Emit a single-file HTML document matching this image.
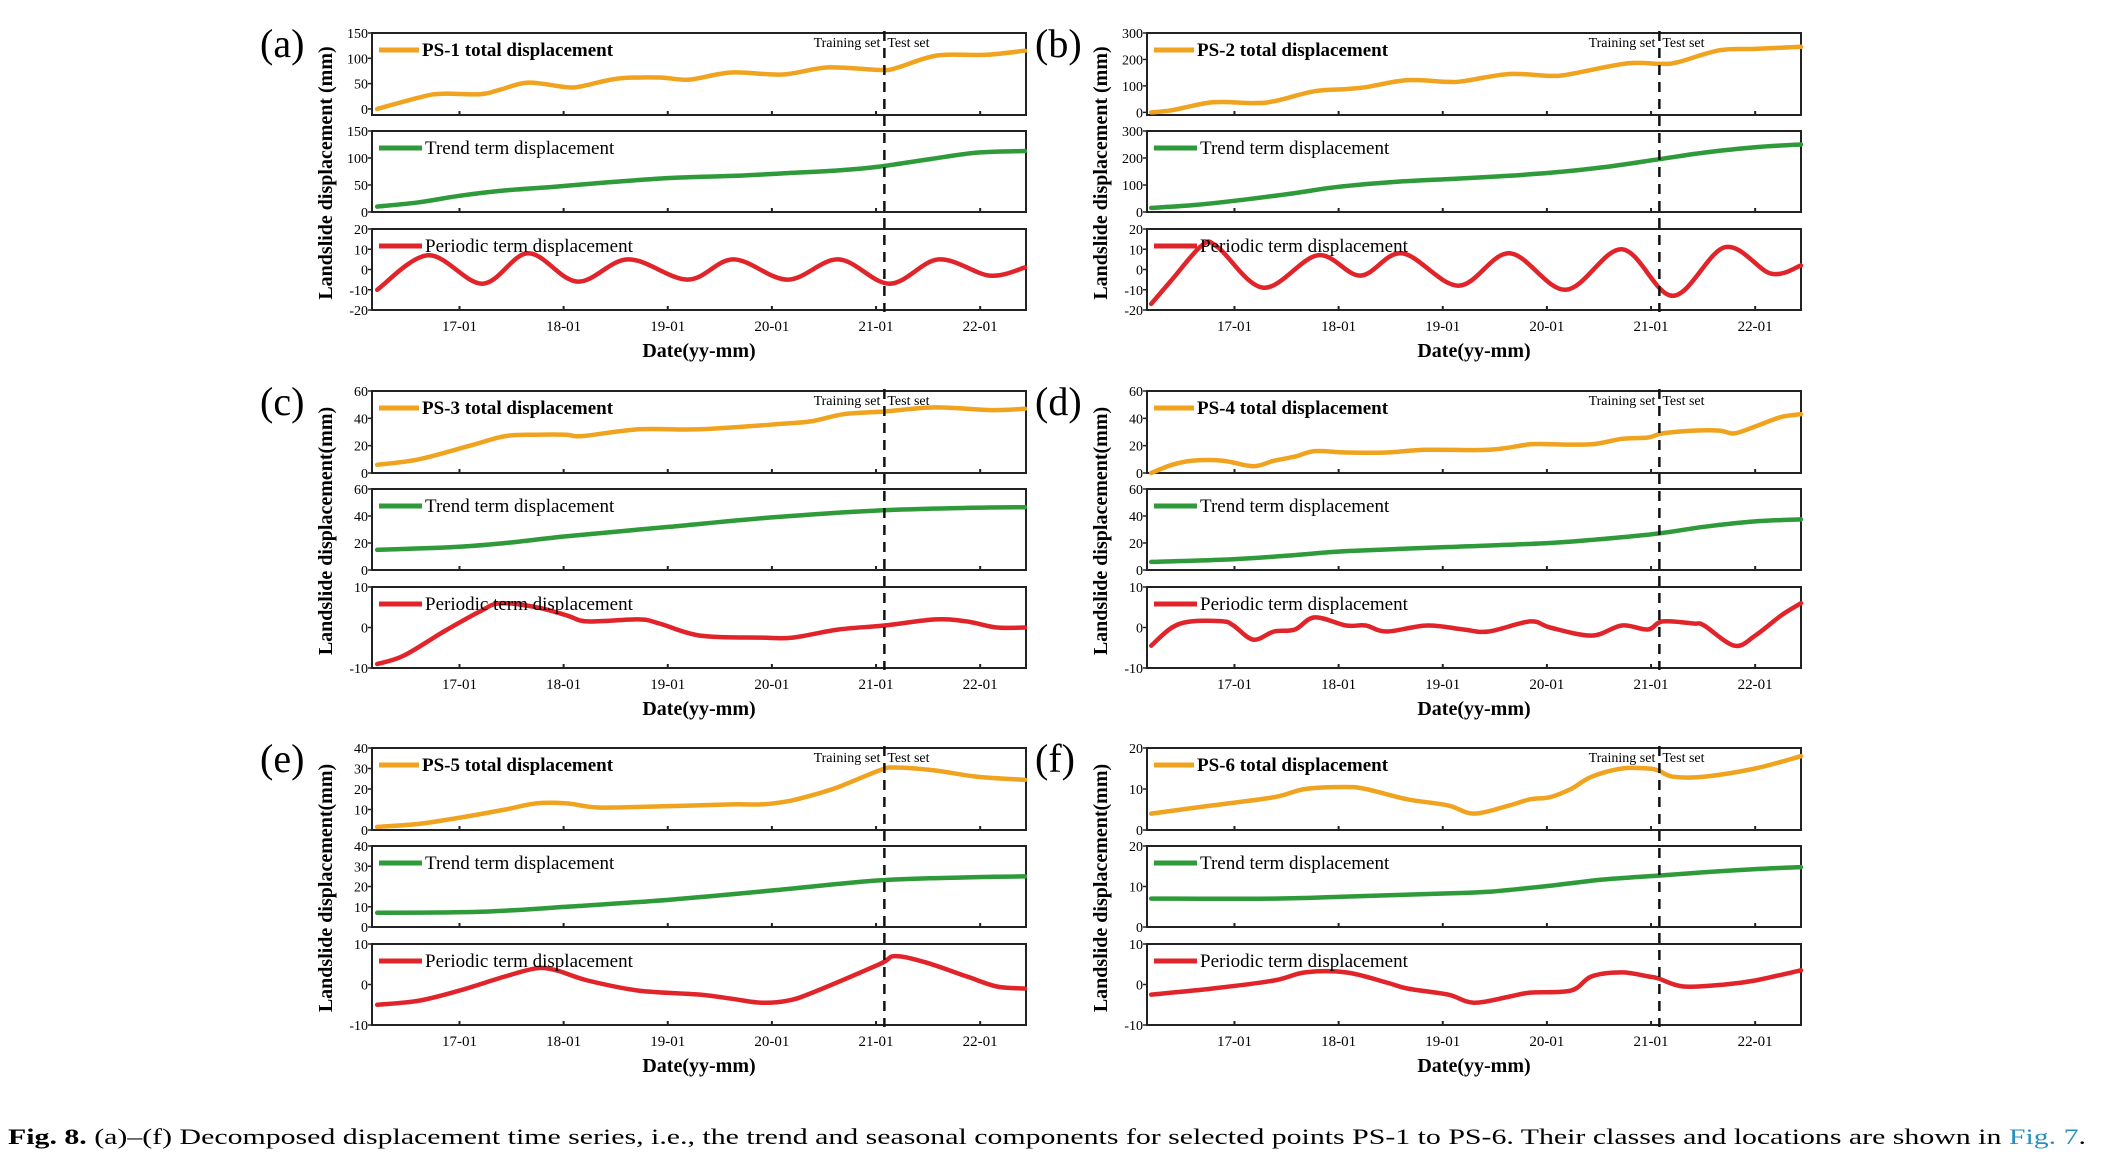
<!DOCTYPE html>
<html><head><meta charset="utf-8">
<style>
html,body{margin:0;padding:0;background:#fff;}
svg{display:block;font-family:"Liberation Serif",serif;}
</style></head>
<body>
<svg id="fig" width="2114" height="1170" viewBox="0 0 2114 1170" xmlns="http://www.w3.org/2000/svg">
<text x="8" y="1144" font-size="22" textLength="2078" lengthAdjust="spacingAndGlyphs"><tspan font-weight="bold">Fig. 8.</tspan>  (a)–(f) Decomposed displacement time series, i.e., the trend and seasonal components for selected points PS-1 to PS-6. Their classes and locations are shown in <tspan fill="#2a8fbd">Fig. 7</tspan>.</text>
</svg>
<script>
// ---- data (dates in decimal years) ----
const yearTicks = [2017, 2018, 2019, 2020, 2021, 2022];
const yearTickLabels = ["17-01","18-01","19-01","20-01","21-01","22-01"];
const splitDate = 2021.08;

const aTotalD = [2016.21,2016.66,2016.85,2017.2,2017.39,2017.66,2018.03,2018.18,2018.52,2018.92,2019.21,2019.61,2020.1,2020.54,2021.03,2021.18,2021.47,2021.67,2022.06,2022.43];
const aTotalV = [0,25,30,29,38,52,43,45,60,62,58,72,68,82,77,80,100,107,107,115];
const aTrendD = [2016.21,2016.61,2017.0,2017.44,2017.93,2018.43,2019.02,2019.65,2020.15,2020.64,2021.03,2021.52,2021.97,2022.43];
const aTrendV = [10,18,30,40,47,55,63,67,72,77,84,98,110,113];
const aPerD = [2016.21,2016.7,2017.22,2017.66,2018.13,2018.62,2019.19,2019.63,2020.15,2020.64,2021.13,2021.6,2022.09,2022.43];
const aPerV = [-10,7,-7,8,-6,5,-5,5,-5,5,-7,5,-3,1];

const bTotalD = [2016.2,2016.4,2016.79,2017.18,2017.38,2017.77,2018.07,2018.26,2018.66,2019.05,2019.2,2019.64,2020.03,2020.23,2020.77,2021.11,2021.26,2021.66,2022.0,2022.44];
const bTotalV = [0,8,38,35,42,80,88,95,122,115,118,145,138,145,185,183,190,235,240,248];
const bTrendD = [2016.2,2016.59,2017.08,2017.58,2017.97,2018.56,2019.05,2019.54,2020.03,2020.53,2021.07,2021.51,2022.0,2022.44];
const bTrendV = [15,25,45,70,92,112,122,132,145,165,195,220,240,250];
const bPerD = [2016.2,2016.4,2016.69,2016.84,2017.28,2017.8,2018.21,2018.61,2019.15,2019.64,2020.18,2020.72,2021.21,2021.71,2022.15,2022.44];
const bPerV = [-17,-5,12,11,-9,7,-3,8,-8,8,-10,10,-13,11,-2,2];

const cTotalD = [2016.21,2016.61,2017.1,2017.44,2017.74,2018.03,2018.18,2018.72,2019.31,2020.1,2020.39,2020.69,2021.08,2021.57,2022.11,2022.43];
const cTotalV = [6,10,20,27,28,28,27,32,32,36,38,43,45,48,46,47];
const cTrendD = [2016.21,2016.95,2017.44,2018.03,2019.02,2020.0,2021.0,2021.87,2022.43];
const cTrendV = [15,17,20,25,32,39,44,46,46.5];
const cPerD = [2016.21,2016.46,2016.85,2017.2,2017.39,2017.74,2018.03,2018.23,2018.72,2018.92,2019.31,2019.9,2020.2,2020.64,2021.08,2021.57,2021.87,2022.16,2022.43];
const cPerV = [-9,-7,-1,4,6,5,3,1.5,2,1,-2,-2.5,-2.5,-0.5,0.5,2,1.5,0,0];

const dTotalD = [2016.2,2016.4,2016.59,2016.89,2017.18,2017.38,2017.58,2017.77,2018.07,2018.46,2018.85,2019.44,2019.84,2020.03,2020.43,2020.72,2020.97,2021.11,2021.41,2021.66,2021.8,2022.0,2022.25,2022.44];
const dTotalV = [0,6,9,9,5,9,12,16,15,15,17,17,21,21,21,25,26,29,31,31,29,34,41,43];
const dTrendD = [2016.2,2016.99,2017.58,2018.07,2019.05,2020.03,2020.53,2021.07,2021.51,2022.0,2022.44];
const dTrendV = [6,8,11,14,17,20,23,27,32,36,37.5];
const dPerD = [2016.2,2016.4,2016.59,2016.89,2016.99,2017.18,2017.38,2017.58,2017.77,2018.07,2018.26,2018.46,2018.85,2019.2,2019.44,2019.84,2020.03,2020.43,2020.72,2020.97,2021.11,2021.41,2021.51,2021.8,2022.0,2022.25,2022.44];
const dPerV = [-4.5,0,1.5,1.5,0.5,-3,-1,-0.5,2.5,0.5,0.5,-1,0.5,-0.5,-1,1.5,0,-2,0.5,-0.5,1.5,1,0.5,-4.5,-2,3,6];

const eTotalD = [2016.21,2016.61,2017.0,2017.44,2017.74,2018.03,2018.33,2018.92,2019.61,2019.9,2020.15,2020.39,2020.64,2021.03,2021.18,2021.57,2021.97,2022.43];
const eTotalV = [1.5,3,6,10,13,13,11,11.5,12.5,12.5,14,17,21,29,30.5,29,26,24.5];
const eTrendD = [2016.21,2017.2,2018.03,2019.02,2020.0,2021.03,2021.87,2022.43];
const eTrendV = [7,7.5,10,13.5,18,23,24.5,25];
const ePerD = [2016.21,2016.61,2017.0,2017.44,2017.74,2017.93,2018.23,2018.72,2019.31,2019.61,2019.9,2020.15,2020.39,2021.03,2021.18,2021.47,2021.87,2022.16,2022.43];
const ePerV = [-5,-4,-1.5,2,4,3.5,1,-1.5,-2.5,-3.5,-4.5,-4,-2,5,7,5.5,2,-0.5,-1];

const fTotalD = [2016.2,2016.79,2017.38,2017.68,2018.07,2018.26,2018.66,2019.05,2019.3,2019.64,2019.84,2020.03,2020.23,2020.43,2020.72,2020.97,2021.07,2021.21,2021.51,2022.0,2022.44];
const fTotalV = [4,6,8,10,10.5,10,7.5,6,4,6,7.5,8,10,13,15,15,14.5,13,13,15,18];
const fTrendD = [2016.2,2017.38,2018.07,2019.05,2019.44,2020.03,2020.53,2021.07,2021.51,2022.0,2022.44];
const fTrendV = [7,7,7.5,8.3,8.7,10.2,11.7,12.7,13.5,14.3,14.8];
const fPerD = [2016.2,2016.79,2017.38,2017.68,2018.07,2018.46,2018.66,2019.05,2019.3,2019.64,2019.84,2020.23,2020.43,2020.72,2020.97,2021.07,2021.31,2021.71,2022.0,2022.44];
const fPerV = [-2.5,-1,1,3,3,0.5,-1,-2.5,-4.5,-3,-2,-1.5,2,3,2,1.5,-0.5,0,1,3.5];

const panelLabels = ["(a)","(b)","(c)","(d)","(e)","(f)"];
const pointNames = ["PS-1","PS-2","PS-3","PS-4","PS-5","PS-6"];
const yTitles = ["Landslide displacement (mm)","Landslide displacement (mm)","Landslide displacement(mm)","Landslide displacement(mm)","Landslide displacement(mm)","Landslide displacement(mm)"];
const totalTicks = [[0,50,100,150],[0,100,200,300],[0,20,40,60],[0,20,40,60],[0,10,20,30,40],[0,10,20]];
const totalMin = [-12,-10,0,0,0,0];
const trendTicks = [[0,50,100,150],[0,100,200,300],[0,20,40,60],[0,20,40,60],[0,10,20,30,40],[0,10,20]];
const perTicks = [[-20,-10,0,10,20],[-20,-10,0,10,20],[-10,0,10],[-10,0,10],[-10,0,10],[-10,0,10]];
const seriesD = [[aTotalD,aTrendD,aPerD],[bTotalD,bTrendD,bPerD],[cTotalD,cTrendD,cPerD],[dTotalD,dTrendD,dPerD],[eTotalD,eTrendD,ePerD],[fTotalD,fTrendD,fPerD]];
const seriesV = [[aTotalV,aTrendV,aPerV],[bTotalV,bTrendV,bPerV],[cTotalV,cTrendV,cPerV],[dTotalV,dTrendV,dPerV],[eTotalV,eTrendV,ePerV],[fTotalV,fTrendV,fPerV]];

// ---- drawing ----
const NS = "http://www.w3.org/2000/svg";
const svg = document.getElementById("fig");
function mk(tag, attrs, parent){ const e=document.createElementNS(NS,tag); for(const k in attrs) e.setAttribute(k,attrs[k]); (parent||svg).appendChild(e); return e; }
const X0=2016.16, X1=2022.44;
const colors=["#f0a31e","#2e9a3a","#e0242a"];
const legendNames=[" total displacement","Trend term displacement","Periodic term displacement"];
const subKeys=["total","trend","periodic"];
const colX=[372,1147], W=654;
const rowY=[33,391,748];
const subOff=[[0,82],[98,179],[196,277]];

function smoothPath(pts){
  let d="M"+pts[0][0].toFixed(1)+","+pts[0][1].toFixed(1);
  for(let i=0;i<pts.length-1;i++){
    const p0=pts[Math.max(0,i-1)],p1=pts[i],p2=pts[i+1],p3=pts[Math.min(pts.length-1,i+2)];
    const c1=[p1[0]+(p2[0]-p0[0])/6,p1[1]+(p2[1]-p0[1])/6];
    const c2=[p2[0]-(p3[0]-p1[0])/6,p2[1]-(p3[1]-p1[1])/6];
    d+="C"+c1[0].toFixed(1)+","+c1[1].toFixed(1)+" "+c2[0].toFixed(1)+","+c2[1].toFixed(1)+" "+p2[0].toFixed(1)+","+p2[1].toFixed(1);
  }
  return d;
}

for(let p=0;p<6;p++){
  const col=p%2,row=Math.floor(p/2);
  const L=colX[col],T=rowY[row];
  const xs=v=>L+(v-X0)/(X1-X0)*W;
  const g=mk("g",{});
  
  
  const lab=mk("text",{x:L-112,y:T+24,"font-size":40},g);
  lab.textContent=panelLabels[p];
  
  
  const yt=mk("text",{x:0,y:0,"font-size":20,"font-weight":"bold","text-anchor":"middle",transform:"translate("+(L-40)+","+(T+140)+") rotate(-90)"},g);
  yt.textContent=yTitles[p];
  
  
  const ticksArr=[totalTicks[p],trendTicks[p],perTicks[p]];
  for(let s=0;s<3;s++){
    const top=T+subOff[s][0],bot=T+subOff[s][1];
    const tk=ticksArr[s];
    const vmax=tk[tk.length-1];
    const vmin= s===0?totalMin[p]:tk[0];
    const ys=v=>bot-(v-vmin)/(vmax-vmin)*(bot-top);
    const sg=mk("g",{},g);
    
    
    const fr=mk("rect",{x:L,y:top,width:W,height:bot-top,fill:"none",stroke:"#222","stroke-width":2},sg);
    
    
    tk.forEach(v=>{
      const y=ys(v);
      const t=mk("text",{x:L-4,y:y+5,"font-size":14,"text-anchor":"end"},sg);
      t.textContent=v;
      
      
      mk("line",{x1:L-4,x2:L,y1:y,y2:y,stroke:"#222","stroke-width":1.5},sg);
    });
    yearTicks.forEach(v=>{ mk("line",{x1:xs(v),x2:xs(v),y1:bot,y2:bot-4,stroke:"#222","stroke-width":2},sg); });
    const D=seriesD[p][s],V=seriesV[p][s];
    const pts=D.map((d,i)=>[xs(d),ys(V[i])]);
    const path=mk("path",{d:smoothPath(pts),fill:"none",stroke:colors[s],"stroke-width":4.5,"stroke-linecap":"round","stroke-linejoin":"round"},sg);
    
    
    const ly=top+17;
    const ll=mk("line",{x1:L+7,x2:L+(s===0?47:50),y1:ly,y2:ly,stroke:colors[s],"stroke-width":5},sg);
    
    
    const lt=mk("text",{x:L+(s===0?50:53),y:ly+6,"font-size":19},sg);
    lt.textContent = s===0 ? pointNames[p]+legendNames[0] : legendNames[s];
    if(s===0) lt.setAttribute("font-weight","bold");
    
    
  }
  const sx=xs(splitDate);
  const dl=mk("line",{x1:sx,x2:sx,y1:T-2,y2:T+subOff[2][1]+2,stroke:"#111","stroke-width":2.5,"stroke-dasharray":"10,7"},g);
  
  
  const tr=mk("text",{x:sx-4,y:T+14,"font-size":14,"text-anchor":"end"},g);
  tr.textContent="Training set";
  
  
  const te=mk("text",{x:sx+3,y:T+14,"font-size":14},g);
  te.textContent="Test set";
  
  
  yearTicks.forEach((v,i)=>{
    const t=mk("text",{x:xs(v),y:T+298,"font-size":15,"text-anchor":"middle"},g);
    t.textContent=yearTickLabels[i];
    
    
  });
  const xt=mk("text",{x:L+W/2,y:T+324,"font-size":20,"font-weight":"bold","text-anchor":"middle"},g);
  xt.textContent="Date(yy-mm)";
  
  
}
</script>
</body></html>
